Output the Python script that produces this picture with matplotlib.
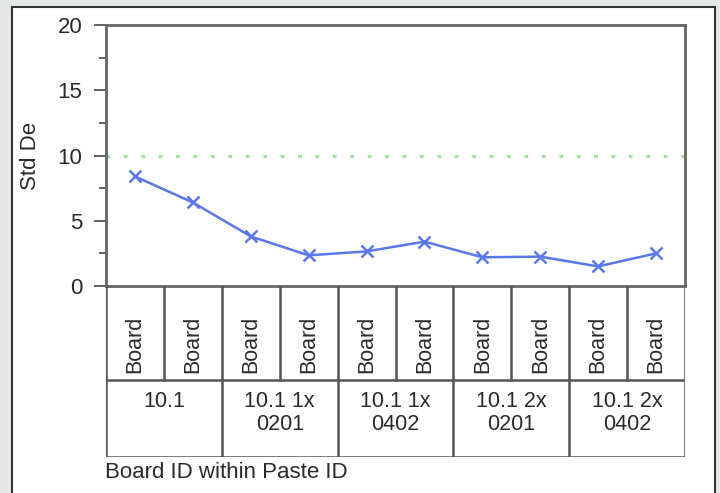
import numpy as np
import matplotlib.pyplot as plt
from matplotlib.patches import Rectangle

plt.rcParams['font.family'] = ['Liberation Sans', 'DejaVu Sans']

# Std deviation per board, grouped by paste ID
boards = ['Board'] * 10
groups = ['10.1', '10.1 1x\n0201', '10.1 1x\n0402', '10.1 2x\n0201', '10.1 2x\n0402']
std_dev = [8.4, 6.4, 3.8, 2.35, 2.65, 3.4, 2.2, 2.25, 1.5, 2.5]
limit = 10
ymax = 20

fig = plt.figure(figsize=(7.2, 4.93), dpi=100)
fig.patch.set_facecolor('#e4e9e7')

# white panel with dark border, kept behind the axes
fig.patches.append(Rectangle((12 / 720, -0.05), 703 / 720, 1 - 7 / 493 + 0.05,
                             transform=fig.transFigure, facecolor='white',
                             edgecolor='#333333', lw=1.5, zorder=-10))

ax = fig.add_axes([106 / 720, 1 - 286 / 493, 579 / 720, 261 / 493])
ax.set_facecolor('none')
x = np.arange(len(std_dev))
ax.axhline(limit, color='#9ee39a', ls=(0, (1.2, 4.5)), lw=2.2)
ax.plot(x, std_dev, color='#5a78e8', lw=1.8, marker='x', ms=9, mew=1.8)
ax.set_xlim(-0.5, len(std_dev) - 0.5)
ax.set_ylim(0, ymax)
ax.set_yticks([0, 5, 10, 15, 20])
ax.set_yticks(np.arange(2.5, 20, 5), minor=True)
ax.set_xticks([])
ax.tick_params(axis='y', which='major', length=9, width=1.3, color='#555555',
               labelsize=16, labelcolor='#2a2a2a', pad=8)
ax.tick_params(axis='y', which='minor', length=5, width=1.3, color='#555555')
for s in ax.spines.values():
    s.set_color('#666666')
    s.set_linewidth(2)
ax.set_ylabel('Std De', fontsize=16, color='#2a2a2a', labelpad=12)

# category table under the axis
tab = fig.add_axes([106 / 720, 1 - 457 / 493, 579 / 720, 171 / 493])
tab.set_xlim(-0.5, len(std_dev) - 0.5)
tab.set_ylim(0, 171)
tab.axis('off')
split = 457 - 380
line_kw = dict(color='#555555', lw=1.8)
tab.plot([-0.5, 9.5], [split, split], **line_kw)
tab.plot([-0.5, 9.5], [0, 0], **line_kw)
for k in range(len(std_dev) + 1):
    xb = k - 0.5
    bottom = 0 if k % 2 == 0 else split
    tab.plot([xb, xb], [bottom, 171], **line_kw)
for i, b in enumerate(boards):
    tab.text(i, split + 7, b, rotation=90, ha='center', va='bottom',
             fontsize=15.5, color='#2a2a2a')
for j, g in enumerate(groups):
    tab.text(2 * j + 0.5, split - 11, g, ha='center', va='top', fontsize=15.5,
             color='#2a2a2a', linespacing=1.1)

fig.text(105 / 720, 1 - 473 / 493, 'Board ID within Paste ID', ha='left',
         va='center', fontsize=16, color='#2a2a2a')

fig.savefig('out.png', dpi=100, facecolor=fig.get_facecolor())
